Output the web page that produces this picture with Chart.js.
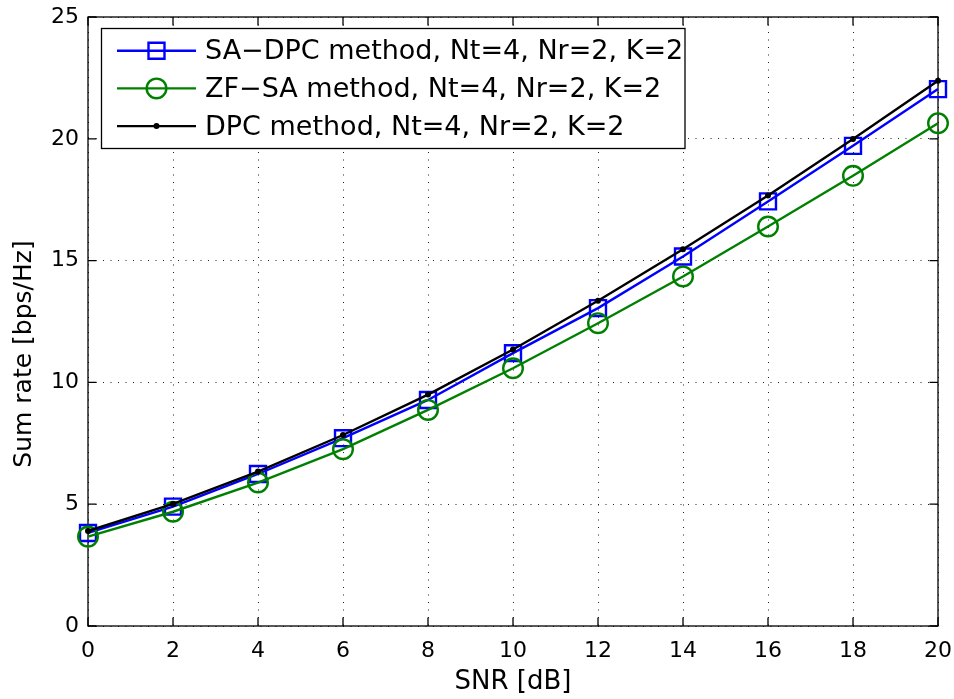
<!DOCTYPE html>
<html>
<head>
<meta charset="utf-8">
<script src="https://cdn.jsdelivr.net/npm/chart.js@4.4.1/dist/chart.umd.min.js"></script>
<style>
  html, body { margin: 0; padding: 0; background: #fff; }
  canvas { display: block; }
</style>
</head>
<body>
<canvas id="c" width="954" height="699"></canvas>
<script>
// values
const snr = [0, 2, 4, 6, 8, 10, 12, 14, 16, 18, 20];
const saDpc = [3.82, 4.90, 6.24, 7.71, 9.28, 11.20, 13.05, 15.17, 17.43, 19.71, 22.04];
const zfSa = [3.67, 4.69, 5.89, 7.26, 8.87, 10.58, 12.43, 14.35, 16.40, 18.48, 20.64];
const dpc = [3.90, 5.01, 6.34, 7.84, 9.50, 11.35, 13.35, 15.47, 17.67, 19.99, 22.38];
const seriesNames = [
  'SA\u2212DPC method, Nt=4, Nr=2, K=2',
  'ZF\u2212SA method, Nt=4, Nr=2, K=2',
  'DPC method, Nt=4, Nr=2, K=2'
];
const xTickValues = [0, 2, 4, 6, 8, 10, 12, 14, 16, 18, 20];
const yTickValues = [0, 5, 10, 15, 20, 25];
const yTitle = 'Sum rate [bps/Hz]';

const FONT = "'DejaVu Sans', 'Liberation Sans', sans-serif";
const TICK = 8.5;

Chart.defaults.font.family = FONT;
Chart.defaults.color = '#000';

function pts(ys) {
  return snr.map((x, i) => ({ x: x, y: ys[i] }));
}

// box round the axes plus inward tick marks, like matlab
const frame = {
  id: 'frame',
  beforeDatasetsDraw(chart) {
    const { ctx, chartArea: a, scales } = chart;
    ctx.save();
    ctx.strokeStyle = '#000';
    ctx.lineWidth = 1.3;
    ctx.strokeRect(a.left, a.top, a.right - a.left, a.bottom - a.top);
    ctx.beginPath();
    xTickValues.forEach(v => {
      const px = scales.x.getPixelForValue(v);
      ctx.moveTo(px, a.bottom); ctx.lineTo(px, a.bottom - TICK);
      ctx.moveTo(px, a.top); ctx.lineTo(px, a.top + TICK);
    });
    yTickValues.forEach(v => {
      const py = scales.y.getPixelForValue(v);
      ctx.moveTo(a.left, py); ctx.lineTo(a.left + TICK, py);
      ctx.moveTo(a.right, py); ctx.lineTo(a.right - TICK, py);
    });
    ctx.stroke();

    // y label sits a bit below the middle of the axis in the original
    ctx.translate(24, 354);
    ctx.rotate(-Math.PI / 2);
    ctx.font = '25px ' + FONT;
    ctx.fillStyle = '#000';
    ctx.textAlign = 'center';
    ctx.textBaseline = 'middle';
    ctx.fillText(yTitle, 0, 0);
    ctx.restore();
  }
};

function marker(ctx, style, r, x, y) {
  ctx.beginPath();
  if (style === 'rect') {
    const s = r * Math.SQRT1_2;
    ctx.rect(x - s, y - s, 2 * s, 2 * s);
    ctx.stroke();
  } else if (style === 'circle' && r > 4) {
    ctx.arc(x, y, r, 0, Math.PI * 2);
    ctx.stroke();
  } else {
    ctx.arc(x, y, r, 0, Math.PI * 2);
    ctx.fill();
  }
}

// legend in the top left corner, line through marker
const legendBox = {
  id: 'legendBox',
  afterDraw(chart) {
    const ctx = chart.ctx;
    const L = 101.5, T = 28.5, R = 685, B = 148.5;
    ctx.save();
    ctx.fillStyle = '#fff';
    ctx.fillRect(L, T, R - L, B - T);
    ctx.strokeStyle = '#000';
    ctx.lineWidth = 1.3;
    ctx.strokeRect(L, T, R - L, B - T);
    ctx.font = '27px ' + FONT;
    ctx.textBaseline = 'middle';
    chart.data.datasets.forEach((ds, i) => {
      const yy = 50.7 + i * 37.7;
      ctx.strokeStyle = ds.borderColor;
      ctx.fillStyle = ds.borderColor;
      ctx.lineWidth = ds.borderWidth;
      ctx.beginPath();
      ctx.moveTo(117, yy); ctx.lineTo(196, yy);
      ctx.stroke();
      ctx.lineWidth = ds.pointBorderWidth;
      marker(ctx, ds.pointStyle, ds.pointRadius, 156.5, yy);
      ctx.fillStyle = '#000';
      ctx.fillText(ds.label, 205, yy + 1.5);
    });
    ctx.restore();
  }
};

new Chart(document.getElementById('c'), {
  type: 'line',
  data: {
    datasets: [
      {
        label: seriesNames[0], data: pts(saDpc), order: 3,
        borderColor: '#0000ff', borderWidth: 2.4,
        pointStyle: 'rect', pointRadius: 11.3, pointBorderWidth: 2.4,
        pointBackgroundColor: 'rgba(0,0,0,0)', pointBorderColor: '#0000ff'
      },
      {
        label: seriesNames[1], data: pts(zfSa), order: 2,
        borderColor: '#008000', borderWidth: 2.4,
        pointStyle: 'circle', pointRadius: 9.8, pointBorderWidth: 2.4,
        pointBackgroundColor: 'rgba(0,0,0,0)', pointBorderColor: '#008000'
      },
      {
        label: seriesNames[2], data: pts(dpc), order: 1,
        borderColor: '#000000', borderWidth: 2.4,
        pointStyle: 'circle', pointRadius: 3, pointBorderWidth: 0,
        pointBackgroundColor: '#000000', pointBorderColor: '#000000'
      }
    ]
  },
  options: {
    responsive: false,
    animation: false,
    events: [],
    clip: false,
    layout: { padding: { top: 17, right: 16, left: 0, bottom: 0 } },
    elements: { line: { tension: 0 } },
    plugins: { legend: { display: false }, tooltip: { enabled: false } },
    scales: {
      x: {
        type: 'linear', min: 0, max: 20,
        afterBuildTicks: s => { s.ticks = xTickValues.map(v => ({ value: v })); },
        afterFit: s => { s.height = 73; s.paddingLeft = 0; s.paddingRight = 0; },
        ticks: { font: { size: 22 }, padding: 12, maxRotation: 0 },
        grid: { color: '#222', lineWidth: 1, drawTicks: false },
        border: { display: false, dash: [1, 6.5] },
        title: { display: true, text: 'SNR [dB]', font: { size: 26 }, padding: { top: 0, bottom: 1 } }
      },
      y: {
        type: 'linear', min: 0, max: 25,
        afterBuildTicks: s => { s.ticks = yTickValues.map(v => ({ value: v })); },
        afterFit: s => { s.width = 88; s.paddingTop = 0; s.paddingBottom = 0; },
        ticks: { font: { size: 22 }, padding: 9 },
        grid: { color: '#222', lineWidth: 1, drawTicks: false },
        border: { display: false, dash: [1, 6.5] },
        title: { display: false }
      }
    }
  },
  plugins: [frame, legendBox]
});
</script>
</body>
</html>
